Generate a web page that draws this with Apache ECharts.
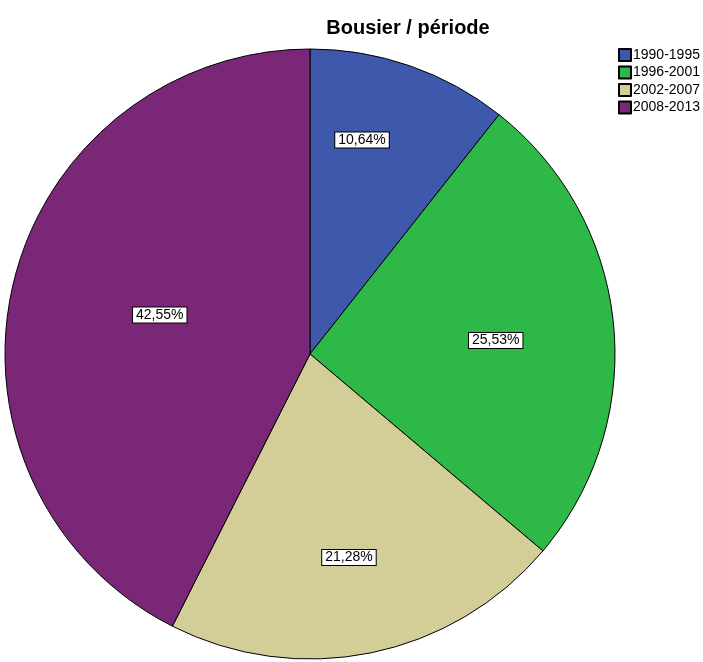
<!DOCTYPE html>
<html><head><meta charset="utf-8">
<script src="https://cdn.jsdelivr.net/npm/echarts@6/dist/echarts.min.js"></script>
<style>html,body{margin:0;padding:0;background:#fff}#c{width:703px;height:662px}</style>
</head><body><div id="c"></div>
<script>
const categories = ['1990-1995', '1996-2001', '2002-2007', '2008-2013'];
const percentages = [10.64, 25.53, 21.28, 42.55];
const colors = ['#3e58ac', '#2eb848', '#d3ce97', '#7b2778'];
const labelOffsets = [[1, -67], [31, 2], [8, 51], [1, -3]];

const chart = echarts.init(document.getElementById('c'));
chart.setOption({
  animation: false,
  title: {
    text: 'Bousier / période',
    left: 403, top: 13, textAlign: 'center',
    textStyle: { fontFamily: 'Liberation Sans, Arial', fontSize: 20, fontWeight: 'bold', color: '#000' }
  },
  legend: {
    orient: 'vertical', left: 613, top: 43,
    itemWidth: 12, itemHeight: 12, itemGap: 3.5,
    icon: 'rect',
    data: categories,
    textStyle: { fontFamily: 'Liberation Sans, Arial', fontSize: 14, color: '#000', padding: [0, 0, 0, -3] }
  },
  series: [{
    type: 'pie',
    center: [310, 354],
    radius: 305,
    startAngle: 90,
    clockwise: true,
    silent: true,
    itemStyle: { borderColor: '#000', borderWidth: 1 },
    label: {
      show: true, position: 'inside',
      formatter: p => p.value.toFixed(2).replace('.', ',') + '%',
      fontFamily: 'Liberation Sans, Arial', fontSize: 14, color: '#000',
      backgroundColor: '#fff', borderColor: '#000', borderWidth: 1, padding: [1, 3, 0, 3]
    },
    labelLine: { show: false },
    data: categories.map((c, i) => ({
      name: c, value: percentages[i],
      itemStyle: { color: colors[i] },
      label: { offset: labelOffsets[i] }
    }))
  }]
});
</script></body></html>
